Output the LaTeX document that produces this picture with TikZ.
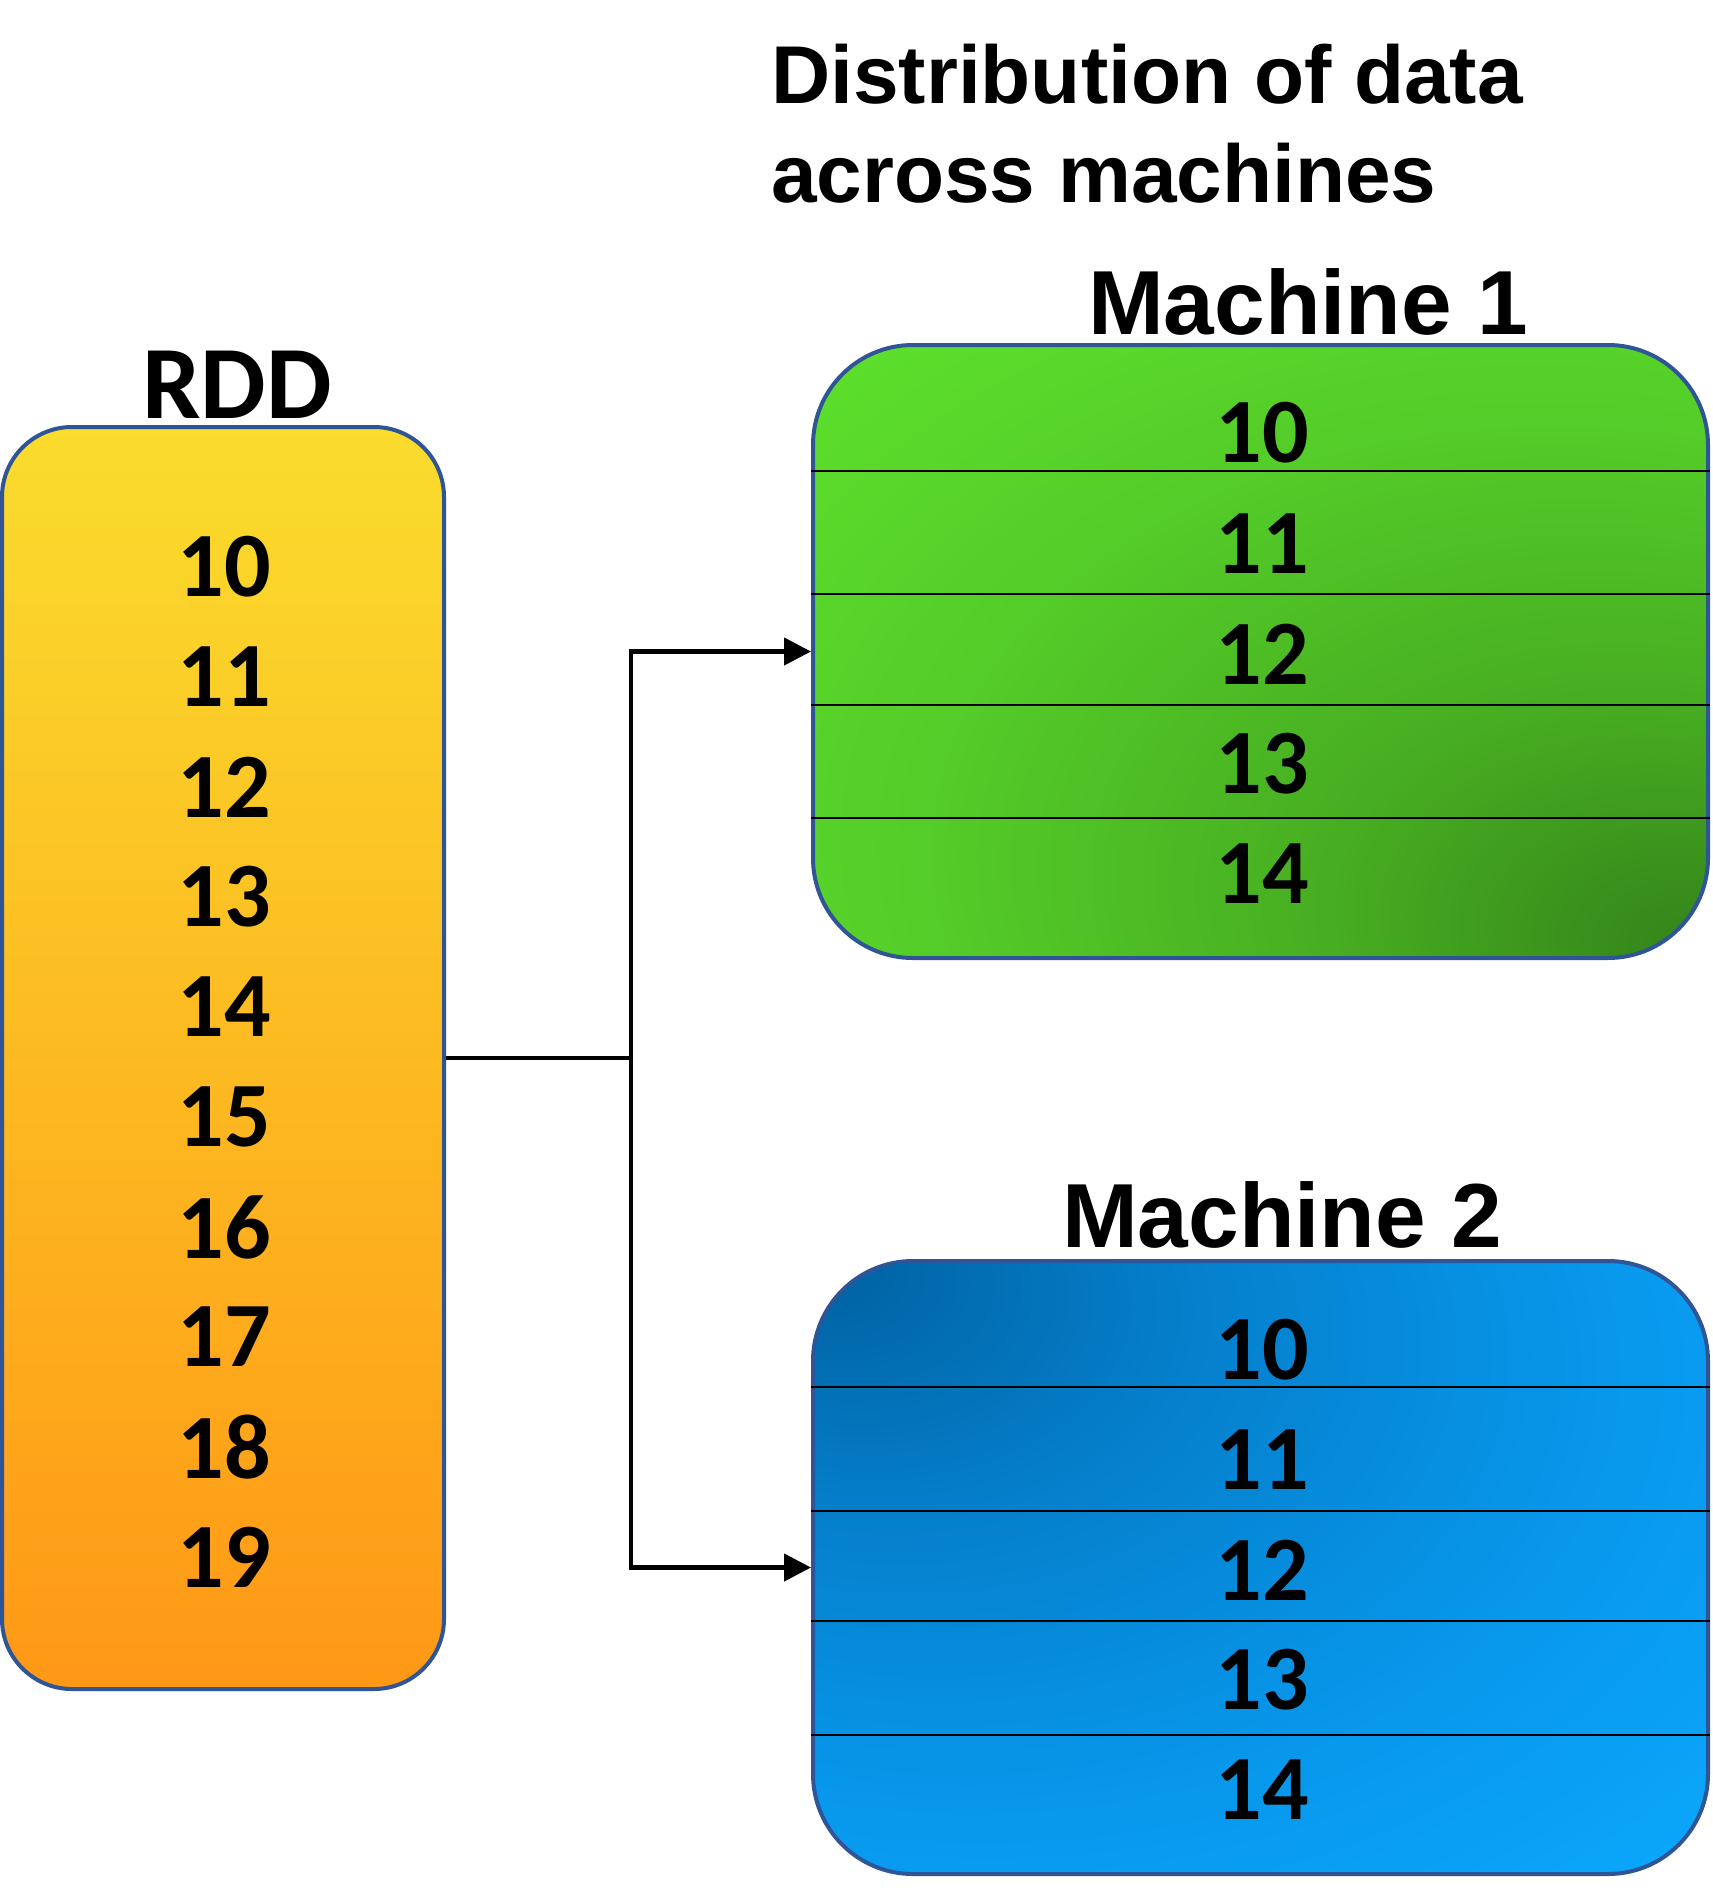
\documentclass[tikz,border=0pt]{standalone}
\usepackage{fontspec}
\usetikzlibrary{arrows.meta}
\newfontfamily\numfont[BoldFont={Carlito Bold}]{Carlito}
\newfontfamily\arialfont[BoldFont={Liberation Sans Bold}]{Liberation Sans}
\definecolor{edgeblue}{RGB}{47,85,151}
\definecolor{rddtop}{RGB}{250,220,45}
\definecolor{rddbot}{RGB}{255,152,22}
\pgfdeclareradialshading{greenrad}{\pgfpoint{25bp}{-25bp}}{%
  rgb(0bp)=(0.20,0.51,0.10);
  rgb(17bp)=(0.28,0.68,0.13);
  rgb(35bp)=(0.33,0.80,0.16);
  rgb(50bp)=(0.36,0.87,0.17);
  rgb(71bp)=(0.38,0.92,0.18);
  rgb(100bp)=(0.38,0.92,0.18)}
\pgfdeclareradialshading{bluerad}{\pgfpoint{-25bp}{25bp}}{%
  rgb(0bp)=(0.00,0.38,0.63);
  rgb(17bp)=(0.02,0.50,0.80);
  rgb(35bp)=(0.03,0.59,0.92);
  rgb(50bp)=(0.04,0.65,0.98);
  rgb(71bp)=(0.04,0.66,0.99);
  rgb(100bp)=(0.04,0.66,0.99)}
\tikzset{
  boxbase/.style={draw=edgeblue, line width=4pt, inner sep=0pt},
  rddbox/.style={boxbase, rounded corners=70pt, top color=rddtop, bottom color=rddbot,
     minimum width=442pt, minimum height=1262pt},
  m1box/.style={boxbase, rounded corners=100pt, shade, shading=greenrad,
     minimum width=895pt, minimum height=613pt},
  m2box/.style={boxbase, rounded corners=100pt, shade, shading=bluerad,
     minimum width=895pt, minimum height=613pt},
  num/.style={font=\numfont\bfseries\fontsize{92}{110}\selectfont, inner sep=0pt, anchor=center},
  rddtitle/.style={font=\numfont\bfseries\fontsize{104}{120}\selectfont, inner sep=0pt, anchor=base},
  mtitle/.style={font=\arialfont\bfseries\fontsize{91}{110}\selectfont, inner sep=0pt, anchor=base},
  maintitle/.style={font=\arialfont\bfseries\fontsize{82}{99}\selectfont, inner sep=0pt, anchor=north west, align=left},
  divider/.style={line width=2.7pt, black},
  conn/.style={line width=4.5pt, black},
  arr/.style={conn, -{Triangle[length=27pt, width=27pt]}}
}
\begin{document}
\begin{tikzpicture}[x=1pt, y=-1pt]
\useasboundingbox[fill=white] (0,0) rectangle (1713,1898);

% title
\node[maintitle] (title) at (771,44) {Distribution of data\\across machines};

% RDD
\node[rddtitle] (rddt) at (237,418) {RDD};
\node[rddbox] (rdd) at (223,1058) {};
\foreach \v [count=\i from 0] in {10,11,12,13,14,15,16,17,18,19} {
  \node[num] (r\v) at (224,{567+110.0*\i}) {\v};
}

% Machine 1
\node[mtitle] (m1t) at (1308,334) {Machine 1};
\node[m1box] (m1) at (1260.5,651.5) {};
\foreach \y in {471,594,705,818} {
  \draw[divider] (m1.west |- 0,\y) -- (m1.east |- 0,\y);
}
\foreach \v/\y in {10/433,11/544,12/654,13/764,14/874} {
  \node[num] (ma\v) at (1262,\y) {\v};
}

% Machine 2
\node[mtitle] (m2t) at (1282,1247) {Machine 2};
\node[m2box] (m2) at (1260.5,1567.5) {};
\foreach \y in {1387,1511,1621,1735} {
  \draw[divider] (m2.west |- 0,\y) -- (m2.east |- 0,\y);
}
\foreach \v/\y in {10/1350,11/1460,12/1570,13/1680,14/1790} {
  \node[num] (mb\v) at (1262,\y) {\v};
}

% connectors
\coordinate (j) at (631,1058);
\draw[conn] (rdd.east) -- (j);
\draw[arr] (j) |- (m1.west);
\draw[arr] (j) |- (m2.west);
\end{tikzpicture}
\end{document}
